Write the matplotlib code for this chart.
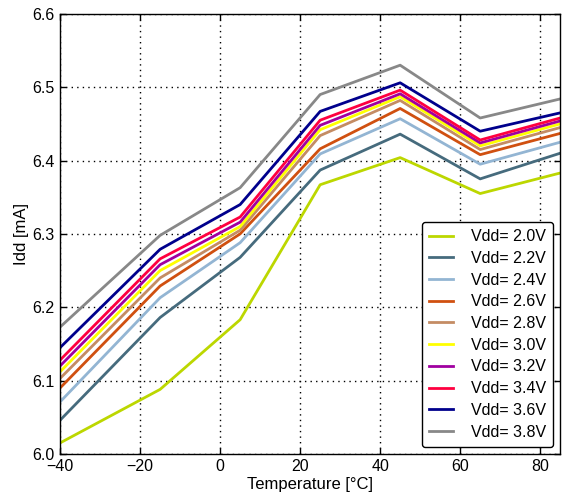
import matplotlib
matplotlib.use("Agg")
import matplotlib.pyplot as plt

temps = [-40, -15, 5, 25, 45, 65, 85]
labels = ["Vdd= 2.0V", "Vdd= 2.2V", "Vdd= 2.4V", "Vdd= 2.6V", "Vdd= 2.8V",
          "Vdd= 3.0V", "Vdd= 3.2V", "Vdd= 3.4V", "Vdd= 3.6V", "Vdd= 3.8V"]
colors = ["#bcd700", "#466b7d", "#93b5d3", "#d05010", "#c48c64",
          "#ffff00", "#a000a0", "#ff0040", "#00008c", "#888888"]

v20 = [6.015, 6.088, 6.183, 6.367, 6.404, 6.355, 6.383]
v22 = [6.046, 6.186, 6.268, 6.387, 6.436, 6.375, 6.410]
v24 = [6.071, 6.213, 6.288, 6.409, 6.457, 6.395, 6.425]
v26 = [6.090, 6.229, 6.300, 6.416, 6.471, 6.408, 6.437]
v28 = [6.103, 6.240, 6.305, 6.434, 6.482, 6.415, 6.445]
v30 = [6.112, 6.250, 6.310, 6.442, 6.487, 6.420, 6.450]
v32 = [6.120, 6.258, 6.316, 6.448, 6.491, 6.424, 6.454]
v34 = [6.128, 6.266, 6.323, 6.455, 6.496, 6.428, 6.458]
v36 = [6.145, 6.279, 6.340, 6.467, 6.506, 6.440, 6.465]
v38 = [6.173, 6.298, 6.363, 6.490, 6.530, 6.458, 6.484]
series = [v20, v22, v24, v26, v28, v30, v32, v34, v36, v38]

plt.rcParams['font.family'] = ['Liberation Sans', 'DejaVu Sans']
plt.rcParams['font.size'] = 11.5

fig = plt.figure(figsize=(5.67, 4.95), dpi=100)
ax = fig.add_axes([0.106, 0.083, 0.882, 0.889])

for vals, lab, c in zip(series, labels, colors):
    ax.plot(temps, vals, color=c, lw=2, label=lab)

ax.set_xlim(-40, 85)
ax.set_ylim(6.0, 6.6)
ax.set_xticks([-40, -20, 0, 20, 40, 60, 80])
ax.set_yticks([6.0, 6.1, 6.2, 6.3, 6.4, 6.5, 6.6])
ax.set_xticklabels(["\u221240", "\u221220", "0", "20", "40", "60", "80"])
ax.set_yticklabels(["6.0", "6.1", "6.2", "6.3", "6.4", "6.5", "6.6"])
ax.tick_params(direction='in', top=True, right=True, length=4, width=1, pad=4,
               labelsize=11.5)
ax.grid(True, linestyle=(0, (1, 3)), color='black', linewidth=1)
for s in ax.spines.values():
    s.set_linewidth(1)
ax.set_xlabel("Temperature [\u00b0C]", labelpad=2, fontsize=12)
ax.set_ylabel("Idd [mA]", labelpad=2, fontsize=12)

leg = ax.legend(loc='lower right', frameon=True, fancybox=True, framealpha=1,
                edgecolor='black', handlelength=1.5, borderaxespad=0.45,
                labelspacing=0.42, handletextpad=1.1, borderpad=0.45,
                fontsize=11.5)
leg.get_frame().set_linewidth(1)

fig.savefig("out.png", dpi=100)
